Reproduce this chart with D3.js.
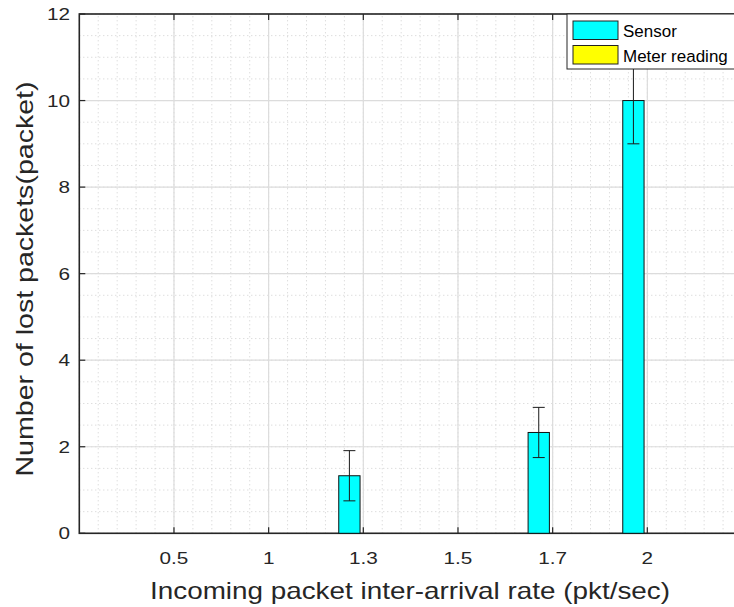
<!DOCTYPE html>
<html>
<head>
<meta charset="utf-8">
<script src="https://cdn.jsdelivr.net/npm/d3@7"></script>
<style>
  body { margin: 0; background: #fff; }
  text { font-family: "Liberation Sans", Arial, sans-serif; fill: #262626; }
</style>
</head>
<body>
<div id="chart"></div>
<script>
// data
var categories = ["0.5", "1", "1.3", "1.5", "1.7", "2"];
var seriesNames = ["Sensor", "Meter reading"];
var seriesColors = ["#00ffff", "#ffff00"];
var sensor = [0, 0, 1.33, 0, 2.33, 10];
var sensorErr = [0, 0, 0.58, 0, 0.58, 1];
var meter = [0, 0, 0, 0, 0, 0];
var meterErr = [0, 0, 0, 0, 0, 0];
var yTicks = [0, 2, 4, 6, 8, 10, 12];

var width = 734,
  height = 607;

var svg = d3.select("#chart").append("svg")
  .attr("width", width)
  .attr("height", height);

// x runs 0..7, categories sit at 1..6 (right edge falls outside the picture)
var x = d3.scaleLinear().domain([0, 7]).range([79.3, 742]);
var y = d3.scaleLinear().domain([0, 12]).range([533.3, 14]);
var step = x(1) - x(0);

var grid = svg.append("g");

// minor grid, dotted
d3.range(0, 7.001, 0.2).forEach(function(v) {
  grid.append("line")
    .attr("x1", x(v)).attr("x2", x(v))
    .attr("y1", y(0)).attr("y2", y(12))
    .attr("stroke", "#cfcfcf").attr("stroke-width", 1)
    .attr("stroke-dasharray", "1,3");
});
d3.range(0, 12.001, 0.5).forEach(function(v) {
  grid.append("line")
    .attr("x1", x(0)).attr("x2", x(7))
    .attr("y1", y(v)).attr("y2", y(v))
    .attr("stroke", "#cfcfcf").attr("stroke-width", 1)
    .attr("stroke-dasharray", "1,3");
});
// major grid
categories.forEach(function(c, i) {
  grid.append("line")
    .attr("x1", x(i + 1)).attr("x2", x(i + 1))
    .attr("y1", y(0)).attr("y2", y(12))
    .attr("stroke", "#dcdcdc").attr("stroke-width", 1.2);
});
yTicks.forEach(function(v) {
  grid.append("line")
    .attr("x1", x(0)).attr("x2", x(7))
    .attr("y1", y(v)).attr("y2", y(v))
    .attr("stroke", "#dcdcdc").attr("stroke-width", 1.2);
});

// bars
var offset = 0.147, barW = 0.225;
var allSeries = [
  { values: sensor, err: sensorErr, color: seriesColors[0], off: -offset },
  { values: meter, err: meterErr, color: seriesColors[1], off: offset }
];

var axisColor = "#262626";

// axes box (drawn under the bars so zero bars show on the base line)
svg.append("rect")
  .attr("x", x(0)).attr("y", y(12))
  .attr("width", x(7) - x(0)).attr("height", y(0) - y(12))
  .attr("fill", "none").attr("stroke", axisColor).attr("stroke-width", 1.6);

allSeries.forEach(function(s) {
  var g = svg.append("g");
  g.selectAll("rect")
    .data(s.values)
    .enter().append("rect")
    .attr("x", function(d, i) { return x(i + 1 + s.off - barW / 2); })
    .attr("width", barW * step)
    .attr("y", function(d) { return y(d); })
    .attr("height", function(d) { return y(0) - y(d); })
    .attr("fill", s.color)
    .attr("stroke", "#111")
    .attr("stroke-width", function(d) { return d > 0 ? 1 : 2.4; });
});

// error bars
allSeries.forEach(function(s) {
  var g = svg.append("g").attr("stroke", "#1a1a1a").attr("stroke-width", 1);
  s.values.forEach(function(v, i) {
    if (s.err[i] <= 0) return;
    var cx = x(i + 1 + s.off);
    var lo = y(v - s.err[i]), hi = y(v + s.err[i]);
    g.append("line").attr("x1", cx).attr("x2", cx).attr("y1", lo).attr("y2", hi);
    g.append("line").attr("x1", cx - 6).attr("x2", cx + 6).attr("y1", lo).attr("y2", lo);
    g.append("line").attr("x1", cx - 6).attr("x2", cx + 6).attr("y1", hi).attr("y2", hi);
  });
});

// tick marks (inward) and labels
var stretch = 1.22;
categories.forEach(function(c, i) {
  var px = x(i + 1);
  svg.append("line").attr("x1", px).attr("x2", px)
    .attr("y1", y(0)).attr("y2", y(0) - 6)
    .attr("stroke", axisColor).attr("stroke-width", 1.2);
  svg.append("line").attr("x1", px).attr("x2", px)
    .attr("y1", y(12)).attr("y2", y(12) + 6)
    .attr("stroke", axisColor).attr("stroke-width", 1.2);
  svg.append("text")
    .attr("transform", "translate(" + px + ",564) scale(" + stretch + ",1)")
    .attr("text-anchor", "middle")
    .style("font-size", "17px")
    .text(c);
});
yTicks.forEach(function(v) {
  svg.append("line").attr("x1", x(0)).attr("x2", x(0) + 6)
    .attr("y1", y(v)).attr("y2", y(v))
    .attr("stroke", axisColor).attr("stroke-width", 1.2);
  svg.append("text")
    .attr("transform", "translate(70," + (y(v) + 6) + ") scale(" + stretch + ",1)")
    .attr("text-anchor", "end")
    .style("font-size", "17px")
    .text(v);
});

// axis titles
svg.append("text")
  .attr("x", 410).attr("y", 599)
  .attr("text-anchor", "middle")
  .attr("textLength", 520)
  .attr("lengthAdjust", "spacingAndGlyphs")
  .style("font-size", "24px")
  .text("Incoming packet inter-arrival rate (pkt/sec)");
svg.append("text")
  .attr("transform", "translate(33,279) rotate(-90)")
  .attr("text-anchor", "middle")
  .attr("textLength", 395)
  .attr("lengthAdjust", "spacingAndGlyphs")
  .style("font-size", "24px")
  .text("Number of lost packets(packet)");

// legend
var legend = svg.append("g").attr("transform", "translate(567,14)");
legend.append("rect")
  .attr("width", 175).attr("height", 55)
  .attr("fill", "#fff").attr("stroke", axisColor).attr("stroke-width", 1);
seriesNames.forEach(function(n, i) {
  legend.append("rect")
    .attr("x", 6).attr("y", 7 + i * 24.5)
    .attr("width", 45).attr("height", 18.5)
    .attr("fill", seriesColors[i]).attr("stroke", "#222").attr("stroke-width", 1);
  legend.append("text")
    .attr("transform", "translate(56," + (23.3 + i * 24.4) + ") scale(1.03,1)")
    .style("font-size", "16.5px")
    .style("fill", "#000")
    .text(n);
});
</script>
</body>
</html>
